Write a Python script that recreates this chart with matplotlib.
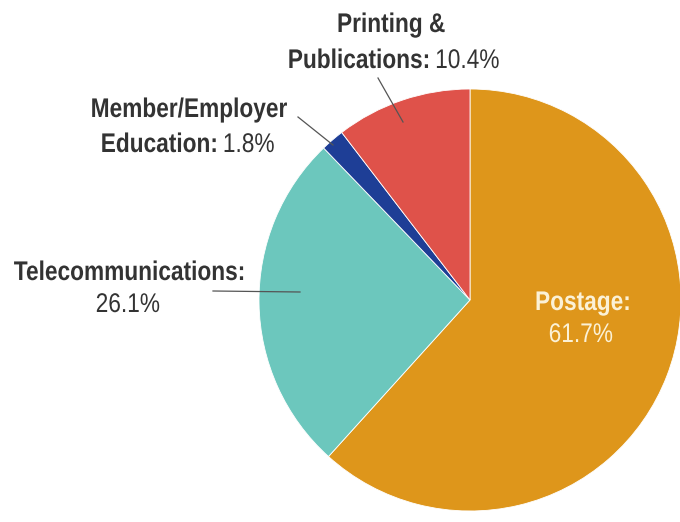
import matplotlib
matplotlib.use("Agg")
import matplotlib.pyplot as plt
from matplotlib.font_manager import FontProperties
from matplotlib.textpath import TextPath
from matplotlib.patches import PathPatch
from matplotlib.transforms import Affine2D

categories = ["Postage", "Telecommunications", "Member/Employer Education", "Printing & Publications"]
shares = [61.7, 26.1, 1.8, 10.4]
colors = ["#DE961B", "#6CC7BD", "#1E3E96", "#DF524A"]

W, H = 680, 522
fig = plt.figure(figsize=(W / 100, H / 100), dpi=100)
ax = fig.add_axes([0, 0, 1, 1])

# pie drawn in pixel coords (y flipped, so counterclock=True gives clockwise on screen)
ax.pie(shares, colors=colors, startangle=-90, counterclock=True,
       center=(470, 300), radius=211, frame=True,
       wedgeprops=dict(edgecolor="white", linewidth=0.6))
ax.set_xlim(0, W)
ax.set_ylim(H, 0)
ax.set_aspect("equal")
ax.axis("off")

EM = 27      # font size in pixels
SX = 0.84    # horizontal squeeze to mimic a narrow font
bold_fp = FontProperties(family="Liberation Sans", weight="bold")
reg_fp = FontProperties(family="Liberation Sans")


def label(xc, base, bold, normal, color="#333333"):
    parts = []
    x = 0
    if bold:
        p = TextPath((0, 0), bold, size=EM, prop=bold_fp)
        parts.append((p, x))
        x = p.get_extents().xmax + 1
    if normal:
        p = TextPath((0, 0), normal, size=EM, prop=reg_fp)
        parts.append((p, x))
        x = x + p.get_extents().xmax
    x0 = parts[0][0].get_extents().xmin
    total = (x - x0) * SX
    left = xc - total / 2 - x0 * SX
    for p, off in parts:
        tr = Affine2D().scale(SX, -1).translate(left + off * SX, base) + ax.transData
        ax.add_patch(PathPatch(p, transform=tr, facecolor=color, lw=0))


label(392, 32, "Printing &", "")
label(394, 68, "Publications:", " 10.4%")
label(190, 117, "Member/Employer", "")
label(188, 152, "Education:", " 1.8%")
label(129, 280, "Telecommunications:", "")
label(128, 312, "", "26.1%")
label(583, 310, "Postage:", "", color="#FBF1D6")
label(581, 342, "", "61.7%", color="#FBF1D6")

# leader lines
ax.plot([378, 403], [78, 122], color="#555555", lw=0.9)
ax.plot([298, 333], [117, 145], color="#555555", lw=0.9)
ax.plot([213, 300], [291, 292], color="#555555", lw=0.9)

fig.savefig("out.png", dpi=100)
